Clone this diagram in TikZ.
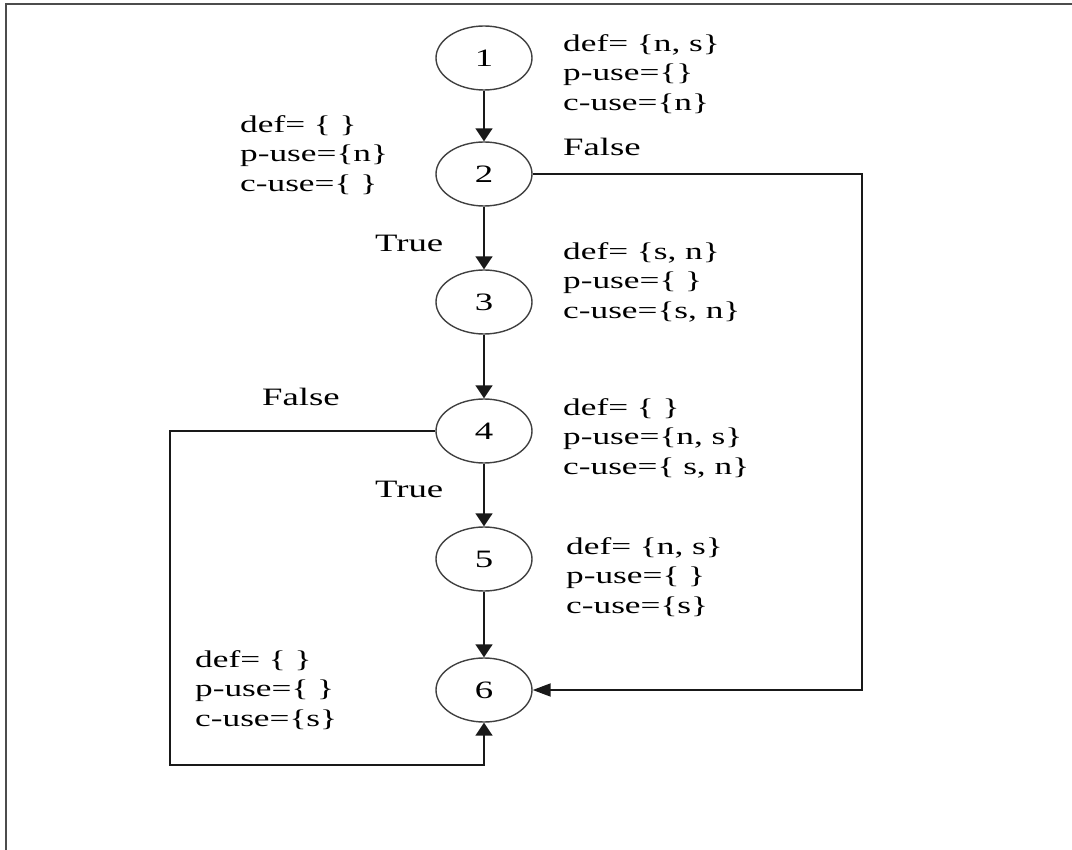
\documentclass[tikz,border=0pt]{standalone}
\usepackage{fontspec}
\setmainfont{Liberation Serif}[FakeStretch=1.47]
\usetikzlibrary{shapes.geometric,arrows.meta}
\begin{document}
\begin{tikzpicture}[x=1pt,y=-1pt,
  vert/.style={draw=black!75,line width=1.4pt,ellipse,minimum width=96pt,minimum height=64pt,inner sep=0pt,font=\fontsize{25}{28}\selectfont},
  info/.style={anchor=west,inner sep=0pt,align=left,font=\fontsize{24}{29.5}\selectfont},
  lbl/.style={anchor=west,inner sep=0pt,font=\fontsize{25}{28}\selectfont},
  arrv/.style={line width=1.8pt,black!90,-{Triangle[length=13pt,width=17pt]}},
  arrh/.style={line width=1.8pt,black!90,-{Triangle[length=18pt,width=13pt]}},
  frameline/.style={line width=2pt,black!70}]
\useasboundingbox (0,0) rectangle (1072,850);
\draw[frameline] (6,850) -- (6,4) -- (1072,4);

\node[vert] (n1) at (484,58) {1};
\node[vert] (n2) at (484,174) {2};
\node[vert] (n3) at (484,302) {3};
\node[vert] (n4) at (484,431) {4};
\node[vert] (n5) at (484,559) {5};
\node[vert] (n6) at (484,690) {6};

\node[info] (t1) at (563,74) {def= \{n, s\}\\p-use=\{\}\\c-use=\{n\}};
\node[info] (t2) at (240,155) {def= \{ \}\\p-use=\{n\}\\c-use=\{ \}};
\node[info] (t3) at (563,282) {def= \{s, n\}\\p-use=\{ \}\\c-use=\{s, n\}};
\node[info] (t4) at (563,438) {def= \{ \}\\p-use=\{n, s\}\\c-use=\{ s, n\}};
\node[info] (t5) at (566,577) {def= \{n, s\}\\p-use=\{ \}\\c-use=\{s\}};
\node[info] (t6) at (195,690) {def= \{ \}\\p-use=\{ \}\\c-use=\{s\}};

\node[lbl] (f2) at (563,147) {False};
\node[lbl] (tr2) at (375,243) {True};
\node[lbl] (f4) at (262,397) {False};
\node[lbl] (tr4) at (375,489) {True};

\draw[arrv] (n1) -- (n2);
\draw[arrv] (n2) -- (n3);
\draw[arrv] (n3) -- (n4);
\draw[arrv] (n4) -- (n5);
\draw[arrv] (n5) -- (n6);

\coordinate (c2) at (862,174);
\draw[arrh] (n2.east) -- (c2) |- (n6.east);
\coordinate (c4a) at (170,431);
\coordinate (c4b) at (170,765);
\draw[arrv] (n4.west) -- (c4a) -- (c4b) -| (n6.south);
\end{tikzpicture}
\end{document}
